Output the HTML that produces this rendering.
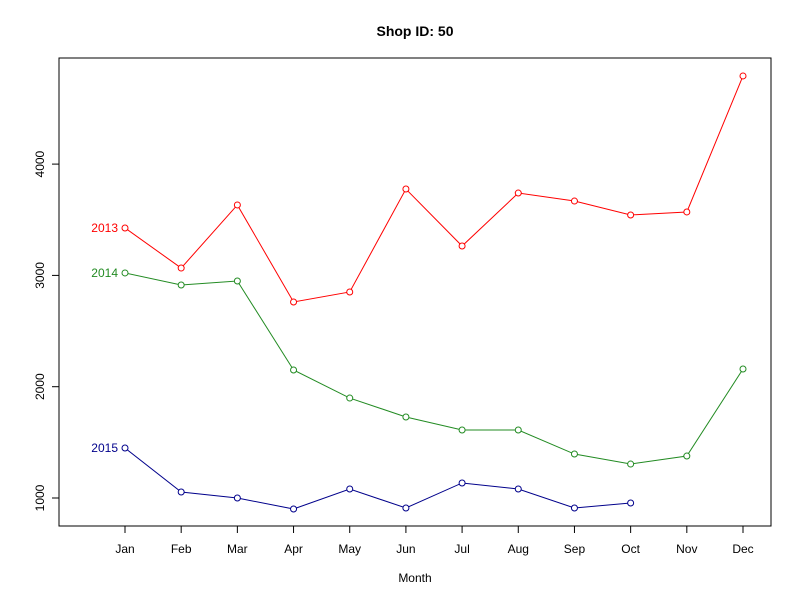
<!DOCTYPE html>
<html><head><meta charset="utf-8"><style>
body{margin:0;background:#fff;}
svg text{font-family:"Liberation Sans",Arial,sans-serif;}
</style></head><body>
<svg id="chart" width="800" height="600" xmlns="http://www.w3.org/2000/svg">
<text x="415" y="36" text-anchor="middle" font-size="14" font-weight="bold">Shop ID: 50</text>
<rect x="59" y="58" width="712" height="468" fill="none" stroke="#000"/>
<text x="415" y="582" text-anchor="middle" font-size="12">Month</text>
<g id="axes"></g>
<g id="series"></g>
</svg>
<script>
const months=["Jan","Feb","Mar","Apr","May","Jun","Jul","Aug","Sep","Oct","Nov","Dec"];
const yTicks=[1000,2000,3000,4000];
const years=["2013","2014","2015"];
const s2013=[3426,3066,3633,2761,2851,3776,3264,3740,3668,3543,3570,4792];
const s2014=[3022,2914,2950,2150,1898,1728,1611,1611,1395,1305,1377,2159];
const s2015=[1449,1054,1000,901,1081,910,1135,1081,910,955];
const colors=["#ff0000","#228b22","#00008b"];
const NS="http://www.w3.org/2000/svg";
function x(i){return 125+i*(743-125)/11;}
function y(v){return 498-(v-1000)*0.1113;}
function mk(tag,attrs,parent){const e=document.createElementNS(NS,tag);for(const k in attrs)e.setAttribute(k,attrs[k]);parent.appendChild(e);return e;}
const ax=document.getElementById('axes');
months.forEach((m,i)=>{
 const t=mk('line',{x1:x(i),x2:x(i),y1:526,y2:533,stroke:'#000'},ax);
 
 
 const l=mk('text',{x:x(i),y:553,'text-anchor':'middle','font-size':12},ax);
 l.textContent=m;
 
 
});
yTicks.forEach(v=>{
 const t=mk('line',{x1:52,x2:59,y1:y(v),y2:y(v),stroke:'#000'},ax);
 
 
 const l=mk('text',{x:44,y:y(v),'text-anchor':'middle','font-size':12,transform:`rotate(-90 44 ${y(v)})`},ax);
 l.textContent=v;
 
 
});
const sg=document.getElementById('series');
[s2013,s2014,s2015].forEach((d,k)=>{
 const g=mk('g',{},sg);
 
 
 const p=mk('polyline',{points:d.map((v,i)=>x(i)+','+y(v)).join(' '),fill:'none',stroke:colors[k],'stroke-width':1},g);
 
 
 d.forEach((v,i)=>{
  const c=mk('circle',{cx:x(i),cy:y(v),r:3,fill:'#fff',stroke:colors[k]},g);
  
  
 });
 const lb=mk('text',{x:x(0)-7,y:y(d[0])+4,'text-anchor':'end','font-size':12,fill:colors[k]},g);
 lb.textContent=years[k];
 
 
});
</script>
</body></html>
